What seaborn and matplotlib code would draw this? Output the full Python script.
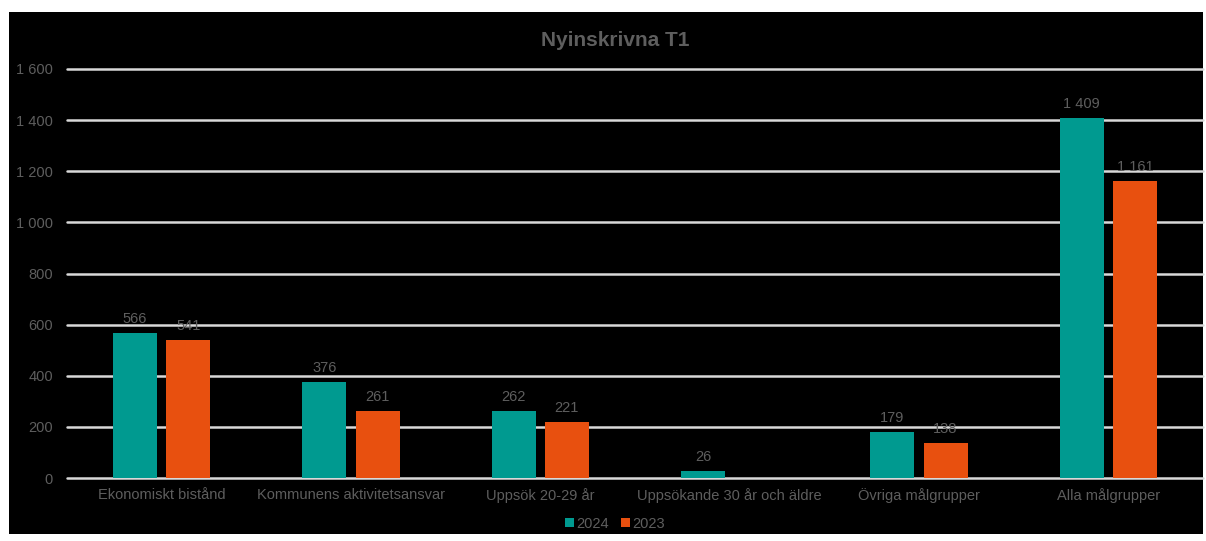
import numpy as np
import pandas as pd
import matplotlib
matplotlib.use("Agg")
import matplotlib.pyplot as plt
import seaborn as sns
from matplotlib.patches import Rectangle

# ---- data ----
categories = ["Ekonomiskt bistånd", "Kommunens aktivitetsansvar", "Uppsök 20-29 år",
              "Uppsökande 30 år och äldre", "Övriga målgrupper", "Alla målgrupper"]
series_names = ["2024", "2023"]
values_2024 = [566, 376, 262, 26, 179, 1409]
values_2023 = [541, 261, 221, np.nan, 138, 1161]
y_ticks = [0, 200, 400, 600, 800, 1000, 1200, 1400, 1600]
title = "Nyinskrivna T1"

df = pd.DataFrame({
    "category": categories * 2,
    "year": [series_names[0]] * len(categories) + [series_names[1]] * len(categories),
    "value": values_2024 + values_2023,
})

# ---- style ----
sns.set_theme(style="white")
plt.rcParams["font.family"] = ["Liberation Sans", "DejaVu Sans"]
text_color = "#5E5E5E"
grid_color = "#D9D9D9"
palette = {"2024": "#009A90", "2023": "#E8500F"}

W, H = 1206, 541
fig = plt.figure(figsize=(W / 100, H / 100), dpi=100, facecolor="white")
fig.patches.append(Rectangle((9 / W, 1 - 534 / H), (1203 - 9) / W, (534 - 12) / H,
                             transform=fig.transFigure, facecolor="black",
                             edgecolor="none", zorder=-5))

ax = fig.add_axes([67 / W, 1 - 478 / H, (1203 - 67) / W, (478 - 69) / H])
ax.set_facecolor("black")

sns.barplot(data=df, x="category", y="value", hue="year", hue_order=series_names,
            order=categories, palette=palette, width=0.561, gap=0.17,
            saturation=1, ax=ax, legend=True, zorder=3, edgecolor="none")

ax.set_ylim(0, 1600)
ax.set_xlim(-0.5, len(categories) - 0.5)
ax.set_yticks(y_ticks)
ax.set_yticklabels([f"{v:,}".replace(",", " ") for v in y_ticks])
ax.yaxis.grid(True, color=grid_color, linewidth=1.8)
ax.xaxis.grid(False)
for gl in ax.get_ygridlines():
    gl.set_clip_on(False)
ax.set_axisbelow(True)
for s in ax.spines.values():
    s.set_visible(False)
ax.tick_params(axis="both", length=0, colors=text_color, labelsize=10.5)
ax.tick_params(axis="y", pad=10)
ax.tick_params(axis="x", pad=7)
ax.set_xlabel("")
ax.set_ylabel("")

for c in ax.containers:
    labels = ["" if (v is None or np.isnan(v)) else f"{v:,.0f}".replace(",", " ")
              for v in c.datavalues]
    ax.bar_label(c, labels=labels, padding=5, color=text_color, fontsize=10.5)

handles, labels = ax.get_legend_handles_labels()
ax.get_legend().remove()
for h in handles:
    h.set_edgecolor("none")
fig.legend(handles, labels, loc="center", bbox_to_anchor=(615 / W, 1 - 524 / H),
           ncol=2, frameon=False, handlelength=0.6, handleheight=0.6,
           handletextpad=0.2, columnspacing=0.8, fontsize=10.5,
           labelcolor=text_color)

fig.text(615 / W, 1 - 40 / H, title, ha="center", va="center",
         fontsize=15, color=text_color, fontweight="bold")

fig.savefig("out.png", dpi=100, facecolor="white")
